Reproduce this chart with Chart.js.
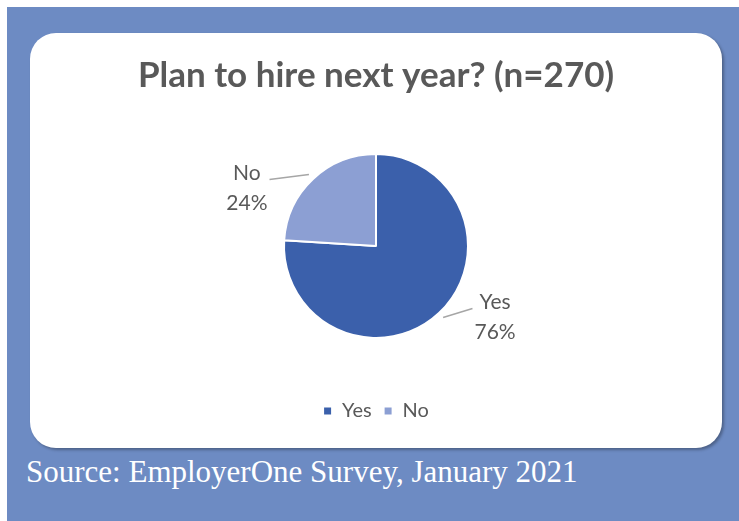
<!DOCTYPE html>
<html>
<head>
<meta charset="utf-8">
<script src="https://cdn.jsdelivr.net/npm/chart.js@4/dist/chart.umd.min.js"></script>
<style>
  html, body { margin: 0; padding: 0; background: #ffffff; }
  body { width: 739px; height: 521px; position: relative; overflow: hidden; }
  #panel { position: absolute; left: 7px; top: 7px; right: 0; bottom: 0; background: #6d8bc3; }
  #card {
    position: absolute; left: 30px; top: 33px; width: 692px; height: 415px;
    background: #ffffff; border-radius: 26px; overflow: hidden;
    box-shadow: 2px 2px 3px rgba(0,0,0,0.3);
  }
  #source {
    position: absolute; left: 26px; top: 454px;
    font-family: "Liberation Serif", "DejaVu Serif", serif; font-size: 31px;
    color: #ffffff; white-space: nowrap;
  }
</style>
</head>
<body>
<div id="panel"></div>
<div id="card"><canvas id="chart" width="692" height="415"></canvas></div>
<div id="source">Source: EmployerOne Survey, January 2021</div>
<script>
// Survey answers
const categories = ["Yes", "No"];
const shares = [76, 24];
const sliceColors = ["#3b60ab", "#8c9fd3"];
const titleText = "Plan to hire next year? (n=270)";

// Where each value label block sits relative to the start of its leader line
const labelOffsets = [{ dx: 52, dy: 0 }, { dx: -62, dy: 14 }];

const labelFont = '21px Lato';
const labelColor = '#595959';

// Draws "Name / NN%" labels outside each slice with a short leader line
const outsideLabels = {
  id: 'outsideLabels',
  afterDatasetsDraw(chart) {
    const ctx = chart.ctx;
    const meta = chart.getDatasetMeta(0);
    const data = chart.data.datasets[0].data;
    const total = data.reduce((a, b) => a + b, 0);
    ctx.save();
    ctx.font = labelFont;
    ctx.textAlign = 'center';
    ctx.textBaseline = 'middle';
    meta.data.forEach((arc, i) => {
      const p = arc.getProps(['x', 'y', 'startAngle', 'endAngle', 'outerRadius'], true);
      const mid = (p.startAngle + p.endAngle) / 2;
      const sx = p.x + Math.cos(mid) * (p.outerRadius + 6);
      const sy = p.y + Math.sin(mid) * (p.outerRadius + 6);
      const lines = [chart.data.labels[i], Math.round(data[i] / total * 100) + '%'];
      const w = Math.max(...lines.map(t => ctx.measureText(t).width));
      const cx = sx + labelOffsets[i].dx;
      const cy = sy + labelOffsets[i].dy;
      const side = labelOffsets[i].dx >= 0 ? -1 : 1;
      const ex = cx + side * (w / 2 + 2);
      const ey = cy - 9;
      ctx.strokeStyle = '#a6a6a6';
      ctx.lineWidth = 1.5;
      ctx.beginPath();
      ctx.moveTo(sx, sy);
      ctx.lineTo(ex, ey);
      ctx.stroke();
      ctx.fillStyle = labelColor;
      const lh = 30;
      lines.forEach((t, k) => {
        ctx.fillText(t, cx, cy + (k - (lines.length - 1) / 2) * lh);
      });
    });
    ctx.restore();
  }
};

new Chart(document.getElementById('chart'), {
  type: 'pie',
  data: {
    labels: categories,
    datasets: [{
      data: shares,
      backgroundColor: sliceColors,
      borderColor: '#ffffff',
      borderWidth: 2,
      radius: 92
    }]
  },
  options: {
    responsive: false,
    devicePixelRatio: 1,
    animation: false,
    layout: { padding: { top: 0, bottom: 17, left: 0, right: 0 } },
    plugins: {
      title: {
        display: true,
        text: titleText,
        color: '#595959',
        font: { family: 'Lato', size: 35, weight: 'bold' },
        padding: { top: 22, bottom: 6 }
      },
      legend: {
        position: 'bottom',
        labels: {
          boxWidth: 9,
          boxHeight: 9,
          color: '#595959',
          font: { family: 'Lato', size: 20 },
          padding: 12
        }
      },
      tooltip: { enabled: false }
    }
  },
  plugins: [outsideLabels]
});
</script>
</body>
</html>
